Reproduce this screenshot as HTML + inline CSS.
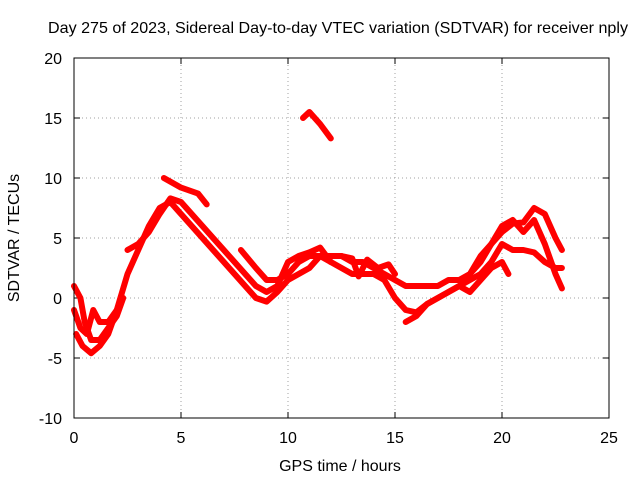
<!DOCTYPE html>
<html><head><meta charset="utf-8"><style>
body{margin:0;background:#fff}
svg{display:block;font-family:"Liberation Sans",sans-serif;font-size:16px}
</style></head><body>
<svg id="chart" width="640" height="480" viewBox="0 0 640 480">
<rect width="640" height="480" fill="#fff"/>
<text x="338" y="33" text-anchor="middle" textLength="580" lengthAdjust="spacingAndGlyphs">Day 275 of 2023, Sidereal Day-to-day VTEC variation (SDTVAR) for receiver nply</text>
<text x="340" y="471" text-anchor="middle">GPS time / hours</text>
<text transform="translate(19,238) rotate(-90)" text-anchor="middle">SDTVAR / TECUs</text>
<g id="grid"></g><g id="ticks"></g><g id="series"></g>
<rect x="74" y="58" width="535" height="360" fill="none" stroke="#000" stroke-width="1"/>
</svg>
<script>
const xTicks=[0,5,10,15,20,25];
const yTicks=[-10,-5,0,5,10,15,20];
const track1=[[0.1,-3],[0.4,-4],[0.8,-4.6],[1.2,-4],[1.6,-3],[2,-1],[2.5,2],[3,4],[3.5,6],[4,7.5],[4.5,8],[5,7],[5.5,6],[6,5],[6.5,4],[7,3],[7.5,2],[8,1],[8.5,0],[9,-0.3],[9.5,0.5],[10,1.5],[10.5,2],[11,2.5],[11.5,3.5],[12,3]];
const track2=[[0,1],[0.3,0],[0.5,-2],[0.8,-3.5],[1.2,-3.5],[1.6,-2.5],[2,-1.5],[2.3,0]];
const track3=[[0,-1],[0.3,-2.5],[0.6,-3],[0.9,-1],[1.2,-2],[1.6,-2],[2,-1]];
const track4=[[4.2,10],[5,9.2],[5.8,8.7],[6.2,7.8]];
const track5=[[10.7,15],[11,15.5],[11.5,14.5],[12,13.3]];
const track6=[[2.5,4],[3,4.5],[3.5,5.5],[4,7],[4.5,8.3],[5,8],[5.5,7],[6,6],[7,4],[7.5,3],[8,2],[8.5,1],[9,0.5],[9.5,1],[10,3],[10.5,3.5],[11,3.8],[11.5,4.2],[12,3]];
const track7=[[7.8,4],[8.5,2.5],[9,1.5],[9.5,1.5],[10,2],[10.5,3],[11,3.5],[12,3.5],[12.5,3.5],[13,3],[13.5,3],[14,2.5],[14.5,2],[15,1.5],[15.5,1],[16,1],[17,1],[17.5,1.5],[18,1.5],[18.5,2],[19,3],[19.5,4.5],[20,5.5],[20.5,6.2],[21,6.3],[21.5,7.5],[22,7],[22.5,5],[22.8,4]];
const track8=[[12,3],[12.5,2.5],[13,2],[13.5,2],[14,2],[14.5,1.5],[15,0],[15.5,-1],[16,-1.2],[16.5,-0.5],[17,0],[17.5,0.5],[18,1],[18.5,1.5],[19,2],[19.5,3],[20,4.5],[20.5,4],[21,4],[21.5,3.8],[22,3],[22.5,2.5],[22.8,2.5]];
const track9=[[15.5,-2],[16,-1.5],[16.5,-0.5],[17,0],[17.5,0.5],[18,1],[18.5,0.5],[19,1.5],[19.5,2.5],[20,3],[20.3,2]];
const track10=[[18.5,2],[19,3.5],[19.5,4.5],[20,6],[20.5,6.5],[21,5.5],[21.5,6.5],[22,4.5],[22.5,2],[22.8,0.8]];
const track11=[[12.5,3.5],[13,3.3],[13.3,1.8],[13.7,3.2],[14.2,2.5],[14.7,2.8],[15,2]];
const allTracks=[track1,track2,track3,track4,track5,track6,track7,track8,track9,track10,track11];
const NS='http://www.w3.org/2000/svg';
const X0=74,X1=609,Y0=418,Y1=58;
function xs(v){return X0+(v-0)/(25-0)*(X1-X0);}
function ys(v){return Y0-(v+10)/(30)*(Y0-Y1);}
const grid=document.getElementById('grid'),ticks=document.getElementById('ticks'),ser=document.getElementById('series');
function mk(tag,attrs,parent){const e=document.createElementNS(NS,tag);for(const k in attrs)e.setAttribute(k,attrs[k]);parent.appendChild(e);return e;}
xTicks.forEach(t=>{
  const x=xs(t);
  if(t>0&&t<25){const g=mk('line',{x1:x,x2:x,y1:Y0,y2:Y1,stroke:'#a0a0a0','stroke-dasharray':'1,3'},grid);
  
  }
  mk('line',{x1:x,x2:x,y1:Y0,y2:Y0-6,stroke:'#000'},ticks);
  mk('line',{x1:x,x2:x,y1:Y1,y2:Y1+6,stroke:'#000'},ticks);
  const l=mk('text',{x:x,y:Y0+25,'text-anchor':'middle'},ticks);l.textContent=t;
  
  
});
yTicks.forEach(t=>{
  const y=ys(t);
  if(t>-10&&t<20){const g=mk('line',{x1:X0,x2:X1,y1:y,y2:y,stroke:'#a0a0a0','stroke-dasharray':'1,3'},grid);
  
  }
  mk('line',{x1:X0,x2:X0+6,y1:y,y2:y,stroke:'#000'},ticks);
  mk('line',{x1:X1,x2:X1-6,y1:y,y2:y,stroke:'#000'},ticks);
  const l=mk('text',{x:X0-12,y:y+6,'text-anchor':'end'},ticks);l.textContent=t;
  
  
});
allTracks.forEach((tr,i)=>{
  const p=mk('polyline',{points:tr.map(d=>xs(d[0])+','+ys(d[1])).join(' '),fill:'none',stroke:'#ff0000','stroke-width':6,'stroke-linejoin':'round','stroke-linecap':'round'},ser);
  
  
});
</script>
</body></html>
